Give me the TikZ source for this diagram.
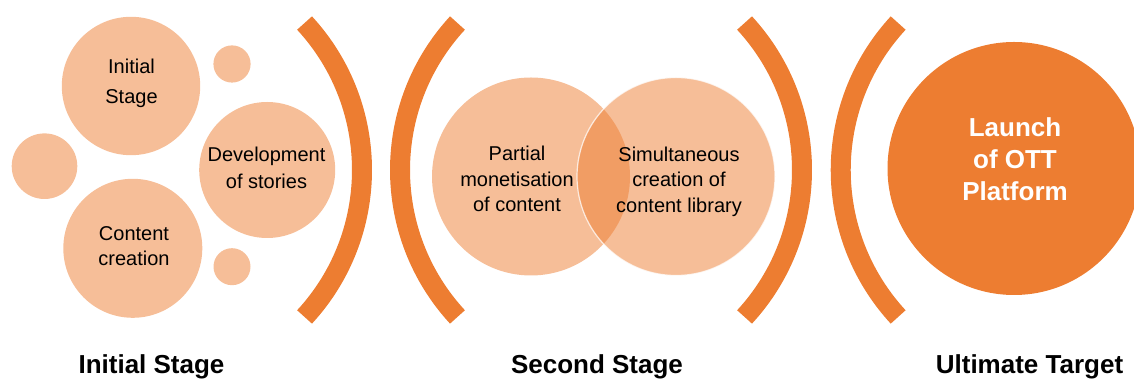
\documentclass[tikz,border=0pt]{standalone}
\usepackage{fontspec}
\setmainfont{Liberation Sans}
\definecolor{orng}{HTML}{ED7D31}
\tikzset{
  bubble/.style={circle, fill=orng, fill opacity=0.5, draw=none, inner sep=0pt, minimum size=#1},
  bigbubble/.style={circle, fill=orng, draw=none, inner sep=0pt, minimum size=#1},
  brk/.style={draw=orng, line width=20pt, line cap=butt},
  txt/.style={anchor=base, inner sep=0pt, text=black},
  steptitle/.style={anchor=base, inner sep=0pt, text=black, font=\fontsize{26}{30}\selectfont\bfseries}
}
\newcommand{\lines}[1]{\begin{tabular}[t]{@{}c@{}}#1\end{tabular}}
\begin{document}
\begin{tikzpicture}[x=1pt,y=1pt]
\useasboundingbox (0,0) rectangle (1134,379);
\clip (0,0) rectangle (1134,379);
% ---- initial stage bubbles
\node[bubble=138.4pt] (initc) at (131,293) {};
\node[bubble=37.2pt] (smalltop) at (232,315) {};
\node[bubble=65.6pt] (leftmid) at (44.5,212.8) {};
\node[bubble=136pt] (devc) at (267.2,209) {};
\node[bubble=139pt] (contc) at (132.8,130.7) {};
\node[bubble=37pt] (smallbot) at (232,112.3) {};
\node[txt, font=\fontsize{20}{30}\selectfont] (initt) at (131.5,305) {\lines{Initial\\Stage}};
\node[txt, font=\fontsize{20}{27}\selectfont] (devt) at (266.5,217.3) {\lines{Development\\of stories}};
\node[txt, font=\fontsize{20}{25}\selectfont] (contt) at (134,138.3) {\lines{Content\\creation}};
% ---- brackets
\coordinate (b1) at (145.3,209);
\coordinate (b2) at (616.7,209);
\coordinate (b3) at (585.3,209);
\coordinate (b4) at (1057.4,209);
\draw[brk] (b1) ++(-42.7:216.7) arc[start angle=-42.7, end angle=42.7, radius=216.7];
\draw[brk] (b2) ++(137.3:216.7) arc[start angle=137.3, end angle=222.7, radius=216.7];
\draw[brk] (b3) ++(-42.7:216.7) arc[start angle=-42.7, end angle=42.7, radius=216.7];
\draw[brk] (b4) ++(137.3:216.7) arc[start angle=137.3, end angle=222.7, radius=216.7];
% ---- second stage venn
\node[bubble=198pt] (monc) at (531,202.5) {};
\node[bubble=198pt, draw=white, draw opacity=0.75, line width=1.2pt] (simc) at (676,202.5) {};
\node[txt, font=\fontsize{20}{25.3}\selectfont] (mont) at (517,218) {\lines{Partial\\monetisation\\of content}};
\node[txt, font=\fontsize{20}{25.3}\selectfont] (simt) at (679,217.5) {\lines{Simultaneous\\creation of\\content library}};
% ---- ultimate target
\node[bigbubble=253pt] (ottc) at (1014,210.5) {};
\node[txt, text=white, font=\fontsize{26}{32}\selectfont\bfseries] (ottt) at (1015,242.3) {\lines{Launch\\of OTT\\Platform}};
% ---- stage titles
\node[steptitle] (s1) at (151.5,5.5) {Initial Stage};
\node[steptitle] (s2) at (597,5.5) {Second Stage};
\node[steptitle] (s3) at (1029.5,5.5) {Ultimate Target};
\end{tikzpicture}
\end{document}
